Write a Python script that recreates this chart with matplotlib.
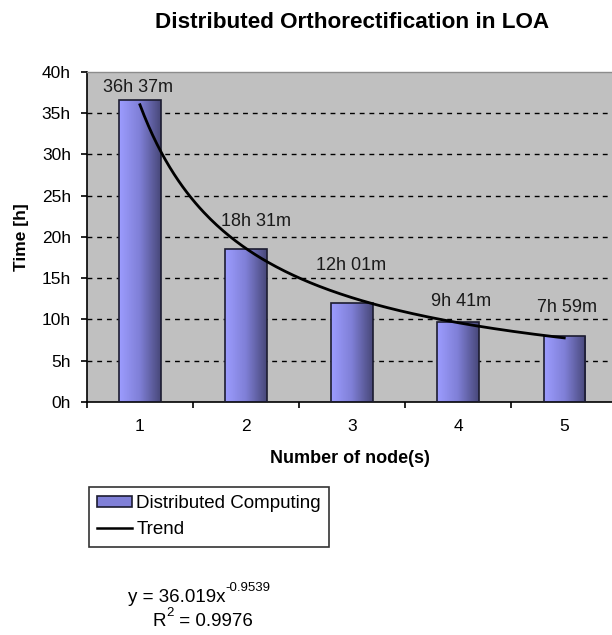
import matplotlib
matplotlib.use("Agg")
import matplotlib.pyplot as plt
import numpy as np
from matplotlib.colors import LinearSegmentedColormap
from matplotlib.patches import Patch
from matplotlib.lines import Line2D

plt.rcParams['font.family'] = ['Liberation Sans', 'DejaVu Sans']

nodes = [1, 2, 3, 4, 5]
hours = [36 + 37/60, 18 + 31/60, 12 + 1/60, 9 + 41/60, 7 + 59/60]
labels = ["36h 37m", "18h 31m", "12h 01m", "9h 41m", "7h 59m"]
yticks = [0, 5, 10, 15, 20, 25, 30, 35, 40]

# where the data labels were dragged to (offset from bar top, in data units)
label_dx = [-0.02, 0.09, -0.01, 0.03, 0.03]
label_dy = [1.5, 3.4, 4.5, 2.5, 3.4]

fig = plt.figure(figsize=(6.12, 6.35), dpi=100)
ax = fig.add_axes([0.142, 0.367, 0.858, 0.520])
ax.set_facecolor('#c0c0c0')

# bars with horizontal gradient
grad = LinearSegmentedColormap.from_list('g', ['#9c9cff', '#7f7fd6', '#48487a'])
bars = ax.bar(nodes, hours, width=0.39, color='none', edgecolor='#1c1c30', linewidth=1.2, zorder=3)
img = np.linspace(0, 1, 64).reshape(1, -1)
for b in bars:
    x0, w, h = b.get_x(), b.get_width(), b.get_height()
    im = ax.imshow(img, cmap=grad, aspect='auto', extent=[x0, x0 + w, 0, h], zorder=2.5)
    im.set_clip_path(b)

# power trend fitted from the bar values
coef = np.polyfit(np.log(nodes), np.log(hours), 1)
xs = np.linspace(1, 5, 200)
ax.plot(xs, np.exp(coef[1]) * xs ** coef[0], color='black', lw=2, zorder=4)

for x, y, t, dx, dy in zip(nodes, hours, labels, label_dx, label_dy):
    ax.text(x + dx, y + dy, t, ha='center', va='center', fontsize=13, color='#1a1a1a', zorder=5)

ax.set_xlim(0.5, 5.45)
ax.set_ylim(0, 40)
ax.set_yticks(yticks)
ax.set_yticklabels([f"{v}h" for v in yticks], fontsize=12.5)
ax.set_xticks(nodes)
ax.set_xticklabels([str(n) for n in nodes], fontsize=12.5)
ax.set_xticks(np.arange(0.5, 5.5, 1), minor=True)
ax.tick_params(axis='x', which='major', length=0, pad=12)
ax.tick_params(axis='x', which='minor', length=4.5, width=1.2, direction='out')
ax.tick_params(axis='y', length=4.5, width=1.2, direction='out', pad=7)
for yv in yticks[1:-1]:
    ax.axhline(yv, color='black', lw=1, ls=(0, (3.5, 3.5)), zorder=1)

ax.spines['right'].set_visible(False)
ax.spines['top'].set_color('#8c8c8c')
ax.spines['top'].set_linewidth(1)
ax.spines['left'].set_linewidth(1.2)
ax.spines['bottom'].set_linewidth(1.2)

ax.set_ylabel("Time [h]", fontsize=12.5, fontweight='bold', labelpad=9)
ax.set_xlabel("Number of node(s)", fontsize=13, fontweight='bold', labelpad=12)
fig.text(0.575, 0.964, "Distributed Orthorectification in LOA", ha='center', va='center',
         fontsize=16.2, fontweight='bold')

handles = [Patch(facecolor='#8080d8', edgecolor='#1c1c30', linewidth=1.2),
           Line2D([0], [0], color='black', lw=1.8)]
leg = fig.legend(handles, ["Distributed Computing", "Trend"], loc='upper left',
                 bbox_to_anchor=(0.1455, 0.233), fontsize=13.5, frameon=True, fancybox=False,
                 edgecolor='black', handlelength=1.85, handleheight=0.55, handletextpad=0.25,
                 borderpad=0.43, labelspacing=0.5, borderaxespad=0)
leg.get_frame().set_linewidth(1.2)

# trend equation, superscript placed after the base text
base = fig.text(0.209, 0.059, "y = 36.019x", ha='left', va='center', fontsize=13.5)
fig.canvas.draw()
bb = base.get_window_extent().transformed(fig.transFigure.inverted())
fig.text(bb.x1, 0.074, "-0.9539", ha='left', va='center', fontsize=9.5)
r2 = fig.text(0.25, 0.022, "R", ha='left', va='center', fontsize=13.5)
fig.canvas.draw()
bb = r2.get_window_extent().transformed(fig.transFigure.inverted())
sup = fig.text(bb.x1, 0.034, "2", ha='left', va='center', fontsize=9.5)
fig.canvas.draw()
bb = sup.get_window_extent().transformed(fig.transFigure.inverted())
fig.text(bb.x1, 0.022, " = 0.9976", ha='left', va='center', fontsize=13.5)

fig.savefig("out.png", dpi=100)
